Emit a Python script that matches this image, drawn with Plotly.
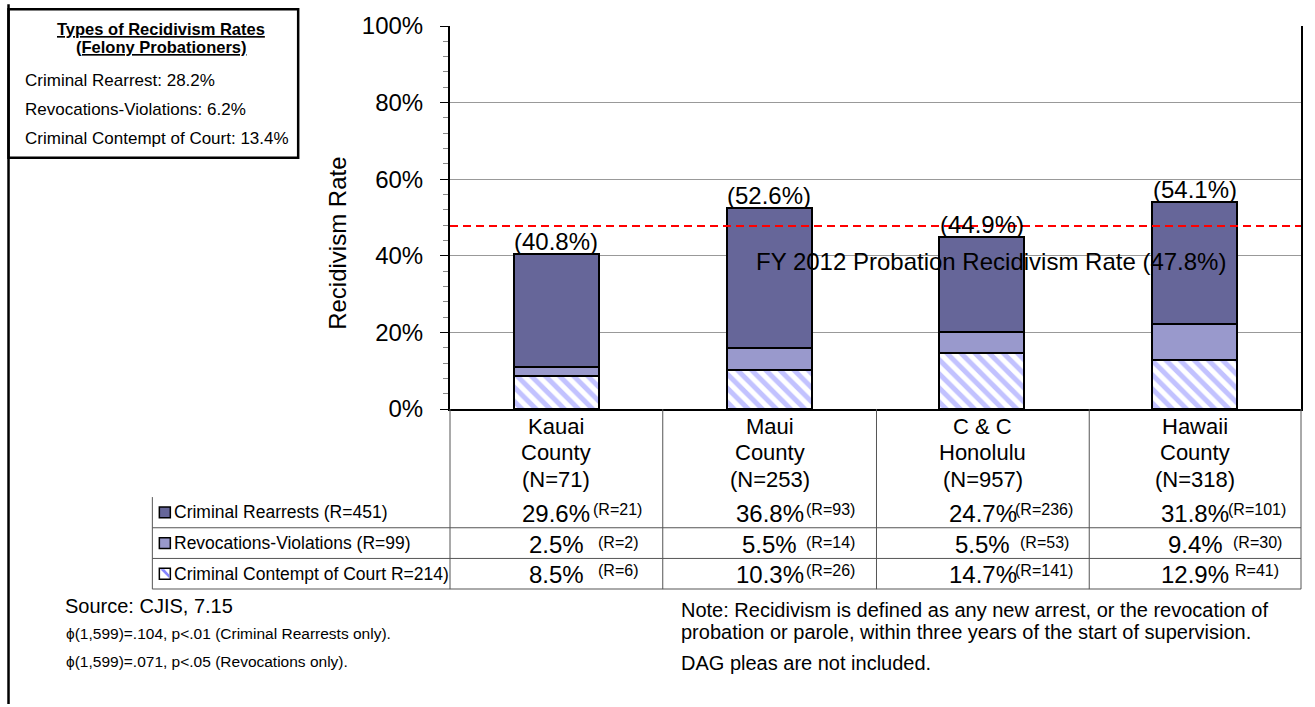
import plotly.graph_objects as go

# ---- data ----
counties = [["Kauai", "County", "(N=71)"], ["Maui", "County", "(N=253)"],
            ["C & C", "Honolulu", "(N=957)"], ["Hawaii", "County", "(N=318)"]]
rearrests = [29.6, 36.8, 24.7, 31.8]
revocations = [2.5, 5.5, 5.5, 9.4]
contempt = [8.5, 10.3, 14.7, 12.9]
totals = [40.8, 52.6, 44.9, 54.1]
rearrest_n = ["(R=21)", "(R=93)", "(R=236)", "(R=101)"]
revocation_n = ["(R=2)", "(R=14)", "(R=53)", "(R=30)"]
contempt_n = ["(R=6)", "(R=26)", "(R=141)", "R=41)"]
series_names = ["Criminal Rearrests (R=451)", "Revocations-Violations (R=99)",
                "Criminal Contempt of Court R=214)"]
state_rate = 47.8
summary_lines = ["Criminal Rearrest: 28.2%", "Revocations-Violations: 6.2%",
                 "Criminal Contempt of Court: 13.4%"]

FONT = "Liberation Sans, Arial, sans-serif"
C_REARREST = "#666699"
C_REVOKE = "#9999CC"
C_HATCH = "#8585ff"

# plot area in pixels
L, R, T, B = 450, 1302, 22, 409
W, H = 1315, 707


def px(x):
    return (x - L) / (R - L)


def py(y):
    return (B - y) / (B - T)


def label(x, y, text, size, xanchor="center", **kw):
    """Free text placed in pixel coordinates of the page."""
    return dict(x=px(x), y=py(y), xref="paper", yref="paper", text=text,
                xanchor=xanchor, yanchor="middle", showarrow=False,
                font=dict(size=size, color="black"), **kw)


x_idx = list(range(len(counties)))
fig = go.Figure()
fig.add_bar(x=x_idx, y=contempt, width=0.4, name=series_names[2],
            marker=dict(color="white", line=dict(color="black", width=2),
                        pattern=dict(shape="\\", fgcolor=C_HATCH, bgcolor="white",
                                     size=10, solidity=0.5)))
fig.add_bar(x=x_idx, y=revocations, width=0.4, name=series_names[1],
            marker=dict(color=C_REVOKE, line=dict(color="black", width=2)))
fig.add_bar(x=x_idx, y=rearrests, width=0.4, name=series_names[0],
            marker=dict(color=C_REARREST, line=dict(color="black", width=2)))

# state-wide reference line
fig.add_shape(type="line", xref="paper", yref="y", x0=0, x1=1, y0=state_rate, y1=state_rate,
              line=dict(color="#ff0000", width=2, dash="8px,5px"))

ann = []
stack_tops = [a + b + c for a, b, c in zip(rearrests, revocations, contempt)]
for i, (top, tot) in enumerate(zip(stack_tops, totals)):
    ann.append(dict(x=i, y=top, xref="x", yref="y", text=f"({tot}%)", showarrow=False,
                    xanchor="center", yanchor="bottom", yshift=-3,
                    font=dict(size=24, color="black")))
ann.append(label(992, 260, f"FY 2012 Probation Recidivism Rate ({state_rate}%)", 24))
ann.append(label(338, 242, "Recidivism Rate", 24, textangle=-90))

# ---- data table under the chart ----
col_edges = [450, 663, 877, 1090, 1302]
col_centers = [(a + b) / 2 for a, b in zip(col_edges[:-1], col_edges[1:])]
row_lines = [498, 529, 560, 591]
row_centers = [(a + b) / 2 for a, b in zip(row_lines[:-1], row_lines[1:])]
shapes = []
line_col = "#555555"
for yl in row_lines:
    last = yl == row_lines[-1]
    shapes.append(dict(type="line", xref="paper", yref="paper", x0=px(152), x1=px(1302),
                       y0=py(yl), y1=py(yl),
                       line=dict(color="#aaaaaa" if last else line_col, width=2 if last else 1)))
shapes.append(dict(type="line", xref="paper", yref="paper", x0=px(152), x1=px(152),
                   y0=py(498), y1=py(591), line=dict(color=line_col, width=1)))
for xe in col_edges:
    shapes.append(dict(type="line", xref="paper", yref="paper", x0=px(xe), x1=px(xe),
                       y0=py(409), y1=py(591), line=dict(color=line_col, width=1)))

for xc, lines in zip(col_centers, counties):
    for yy, txt in zip([427, 453, 480], lines):
        ann.append(label(xc, yy, txt, 22))

rows = [(rearrests, rearrest_n, -3), (revocations, revocation_n, -1), (contempt, contempt_n, -3)]
for yc, (vals, ns, n_shift) in zip(row_centers, rows):
    for xl, xc, v, n in zip(col_edges, col_centers, vals, ns):
        ann.append(label(xc, yc + 1, f"{v}%", 24))
        ann.append(label(xl + 168, yc + n_shift, n, 16))

swatch_fill = [C_REARREST, C_REVOKE, "white"]
for yc, name, fill in zip(row_centers, series_names, swatch_fill):
    ann.append(label(172, yc, name, 17.5, xanchor="left"))
    shapes.append(dict(type="rect", xref="paper", yref="paper", x0=px(159), x1=px(170),
                       y0=py(yc + 5.5), y1=py(yc - 5.5), fillcolor=fill,
                       line=dict(color="black", width=1.5)))
# hatched swatch: blue diagonal band
yc = row_centers[2]
shapes.append(dict(type="path", xref="paper", yref="paper",
                   path=(f"M {px(160)} {py(yc - 4.5)} L {px(164)} {py(yc - 4.5)} "
                         f"L {px(169)} {py(yc + 1)} L {px(169)} {py(yc + 4.5)} Z"),
                   fillcolor=C_HATCH, line=dict(width=0)))

# ---- summary box ----
shapes.append(dict(type="rect", xref="paper", yref="paper", x0=px(8), x1=px(298),
                   y0=py(5), y1=py(155), line=dict(color="black", width=2.5)))
shapes.append(dict(type="line", xref="paper", yref="paper", x0=px(8), x1=px(8),
                   y0=py(0), y1=py(707), line=dict(color="black", width=2.5)))
ann.append(label(161, 25, "<b><u>Types of Recidivism Rates</u></b>", 16.5))
ann.append(label(161, 43, "<b><u>(Felony Probationers)</u></b>", 16.5))
for yy, txt in zip([77, 106, 136], summary_lines):
    ann.append(label(22, yy, txt, 17, xanchor="left"))

# ---- footnotes ----
ann.append(label(63, 608, "Source: CJIS, 7.15", 20, xanchor="left"))
ann.append(label(64, 636, "\u03d5(1,599)=.104, p<.01 (Criminal Rearrests only).", 15.5,
                 xanchor="left"))
ann.append(label(64, 664, "\u03d5(1,599)=.071, p<.05 (Revocations only).", 15.5,
                 xanchor="left"))
ann.append(label(679, 612, "Note: Recidivism is defined as any new arrest, or the revocation of",
                 20, xanchor="left"))
ann.append(label(679, 634, "probation or parole, within three years of the start of supervision.",
                 20, xanchor="left"))
ann.append(label(679, 666, "DAG pleas are not included.", 20, xanchor="left"))

fig.update_layout(
    width=W, height=H, barmode="stack", showlegend=False,
    margin=dict(l=L, r=W - R, t=T, b=H - B, pad=0),
    paper_bgcolor="white", plot_bgcolor="white",
    font=dict(family=FONT, color="black"),
    annotations=ann, shapes=shapes,
    xaxis=dict(range=[-0.5, 3.5], showticklabels=False, ticks="", showgrid=False,
               showline=True, linecolor="black", linewidth=2, zeroline=False),
    yaxis=dict(range=[0, 100], dtick=20, ticksuffix="%", ticks="outside", ticklen=8,
               tickcolor="black", tickfont=dict(size=24), ticklabelstandoff=12,
               showgrid=True, gridcolor="#999999",
               gridwidth=1, showline=True, linecolor="black", linewidth=2, mirror=True,
               zeroline=False,
               minor=dict(dtick=4, ticks="outside", ticklen=5, tickcolor="#888888",
                          showgrid=False)),
)

fig.write_html("out.html")
